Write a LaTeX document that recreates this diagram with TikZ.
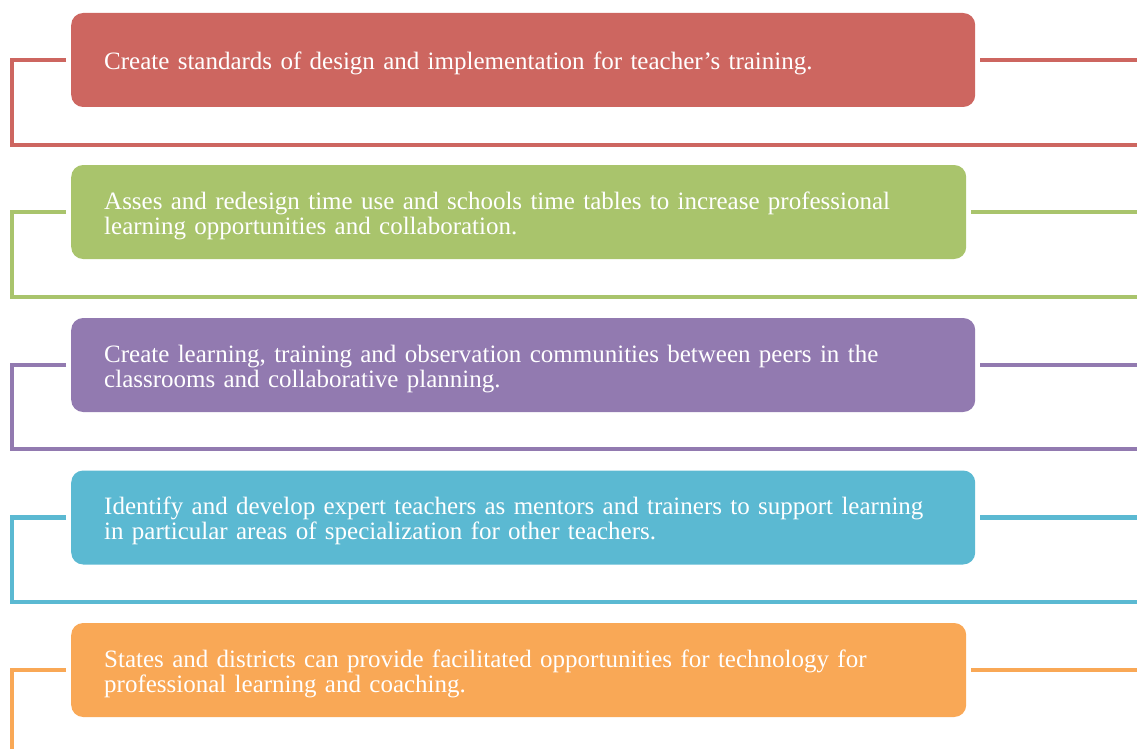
\documentclass[tikz,border=0pt]{standalone}
\usepackage{fontspec}
\setmainfont{Liberation Serif}
\usepackage{tikz}
\definecolor{boxred}{HTML}{CD6660}
\definecolor{boxgreen}{HTML}{A9C46C}
\definecolor{boxpurple}{HTML}{927AB0}
\definecolor{boxcyan}{HTML}{5BB9D2}
\definecolor{boxorange}{HTML}{F9A856}

\begin{document}
\begin{tikzpicture}[x=1pt,y=-1pt,
    item/.style={rounded corners=12pt, anchor=west, minimum height=94pt, inner xsep=33pt,
        text=white, align=left, font=\fontsize{25}{25}\selectfont,
        execute at begin node={\rule{0pt}{25pt}}},
    link/.style={line width=4.5pt}]
    \useasboundingbox (0,0) rectangle (1137,749);
    % standards
    \node[item, fill=boxred, text width=838pt] (standards) at (71,60) {Create standards of design and implementation for teacher’s training.};
    \draw[link, boxred] ([xshift=-5pt]standards.west) -| (12,145) -- (1137,145);
    \draw[link, boxred] ([xshift=5pt]standards.east) -- (1137,60);
    % time use
    \node[item, fill=boxgreen, text width=829pt] (timeuse) at (71,212) {Asses and redesign time use and schools time tables to increase professional\\learning opportunities and collaboration.};
    \draw[link, boxgreen] ([xshift=-5pt]timeuse.west) -| (12,297) -- (1137,297);
    \draw[link, boxgreen] ([xshift=5pt]timeuse.east) -- (1137,212);
    % peers
    \node[item, fill=boxpurple, text width=838pt] (peers) at (71,365) {Create learning, training and observation communities between peers in the\\classrooms and collaborative planning.};
    \draw[link, boxpurple] ([xshift=-5pt]peers.west) -| (12,449) -- (1137,449);
    \draw[link, boxpurple] ([xshift=5pt]peers.east) -- (1137,365);
    % mentors
    \node[item, fill=boxcyan, text width=838pt] (mentors) at (71,517.5) {Identify and develop expert teachers as mentors and trainers to support learning\\in particular areas of specialization for other teachers.};
    \draw[link, boxcyan] ([xshift=-5pt]mentors.west) -| (12,602) -- (1137,602);
    \draw[link, boxcyan] ([xshift=5pt]mentors.east) -- (1137,517.5);
    % technology
    \node[item, fill=boxorange, text width=829pt] (technology) at (71,670) {States and districts can provide facilitated opportunities for technology for\\professional learning and coaching.};
    \draw[link, boxorange] ([xshift=-5pt]technology.west) -| (12,749);
    \draw[link, boxorange] ([xshift=5pt]technology.east) -- (1137,670);
\end{tikzpicture}
\end{document}
